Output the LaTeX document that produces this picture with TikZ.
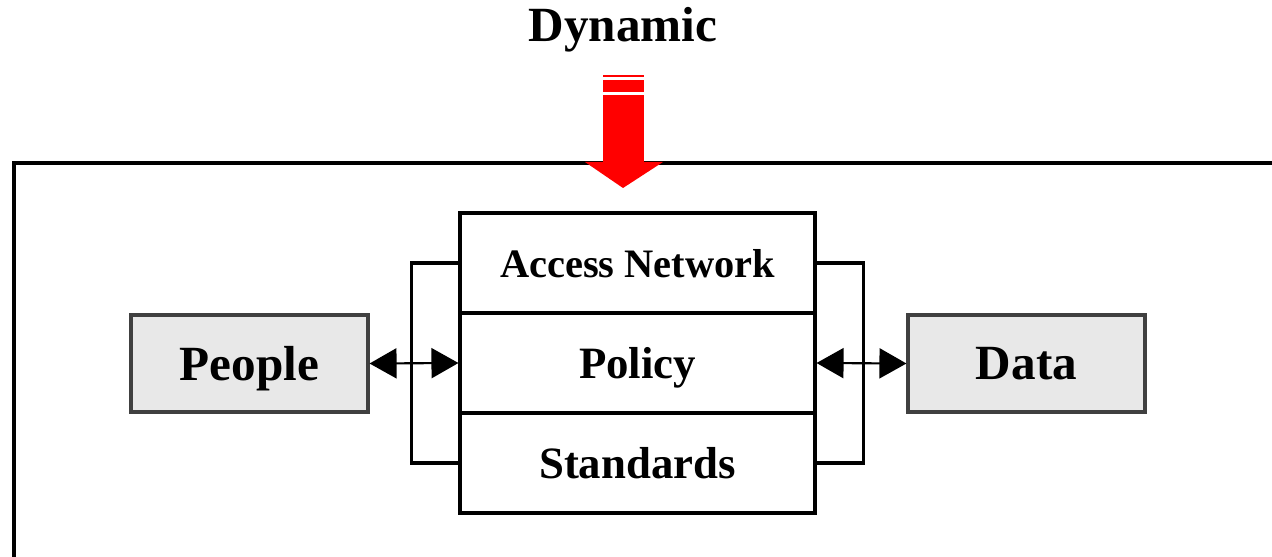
\documentclass[tikz,border=0pt]{standalone}
\usepackage{fontspec}
\setmainfont{Liberation Serif}
\usetikzlibrary{arrows.meta}
\definecolor{boxgray}{HTML}{E8E8E8}
\definecolor{edgegray}{HTML}{404040}
\begin{document}
\begin{tikzpicture}[x=0.02cm, y=-0.02cm,
		layer/.style={draw, line width=1.8pt, minimum width=7.1cm, minimum height=2cm, inner sep=0pt, text depth=0pt, font=\bfseries},
		party/.style={draw=edgegray, fill=boxgray, line width=1.8pt, minimum width=4.74cm, minimum height=1.94cm, inner sep=0pt, text depth=0pt, font=\fontsize{28}{30}\selectfont\bfseries},
		link/.style={line width=1.2pt, {Triangle[length=0.54cm, width=0.6cm]}-{Triangle[length=0.54cm, width=0.6cm]}}]
		\useasboundingbox (0, 0) rectangle (1272, 557);
		\draw[line width=1.8pt] (14, 565) |- (1280, 163);
		\node[font=\fontsize{28}{30}\selectfont\bfseries] (dynamic) at (623, 30) {Dynamic};
		% red arrow
		\fill[red] (603, 75) rectangle (644, 77.5);
		\fill[red] (603, 80.5) rectangle (644, 92);
		\fill[red] (603, 95) rectangle (644, 163);
		\fill[red] (585, 162) -- (663, 162) -- (623, 188) -- cycle;
		% layers
		\node[layer, font=\fontsize{23}{25}\selectfont\bfseries] (access) at (637.5, 263) {Access Network};
		\node[layer, font=\fontsize{25.5}{27}\selectfont\bfseries] (policy) at (637.5, 363) {Policy};
		\node[layer, font=\fontsize{25.5}{27}\selectfont\bfseries] (standards) at (637.5, 463) {Standards};
		\draw[line width=1.8pt] (access.west) -- ++(-47, 0) |- (standards.west);
		\draw[line width=1.8pt] (access.east) -- ++(47, 0) |- (standards.east);
		\node[party] (people) at (249.5, 363.5) {People};
		\node[party] (data) at (1026.5, 363.5) {Data};
		\draw[link] (people.east) -- (policy.west);
		\draw[link] (policy.east) -- (data.west);
	\end{tikzpicture}
\end{document}
